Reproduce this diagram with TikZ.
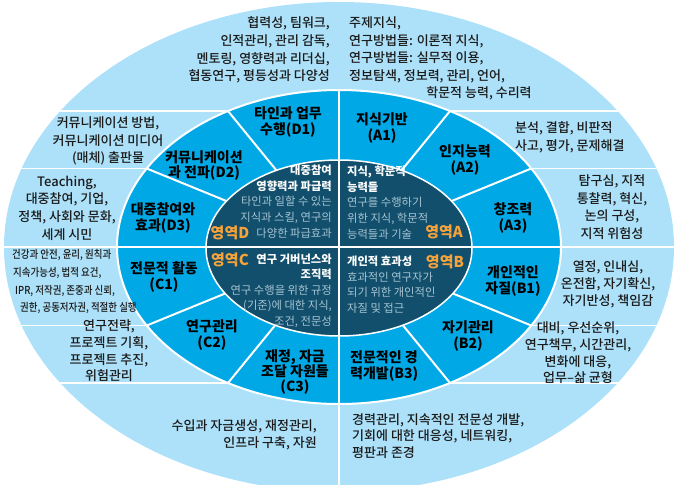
\documentclass[tikz,border=0pt]{standalone}
\usepackage{fontspec}
\setmainfont{Noto Sans CJK KR}
\newfontfamily\medfont{Noto Sans CJK KR Medium}
\newfontfamily\condfont[FakeStretch=0.86]{Noto Sans CJK KR Medium}
\definecolor{lightb}{HTML}{ADE1F9}
\definecolor{midb}{HTML}{00A9E6}
\definecolor{darkb}{HTML}{124F6C}
\definecolor{orangeC}{HTML}{F6A33B}
\definecolor{grayt}{HTML}{A6C4D3}
\definecolor{txt}{HTML}{1A1A1A}
\tikzset{
  outer/.style={font=\medfont\fontsize{13}{17.7}\selectfont, text=txt, align=center, inner sep=0pt},
  smallouter/.style={font=\condfont\fontsize{11}{17.7}\selectfont, text=txt, inner sep=0pt},
  ringlbl/.style={font=\fontsize{14}{16.5}\selectfont\bfseries, text=black, align=center, inner sep=0pt},
  innertxt/.style={font=\fontsize{11.3}{15.6}\selectfont, text=grayt, inner sep=0pt},
  zone/.style={font=\fontsize{15}{15}\selectfont\bfseries, text=orangeC, inner sep=0pt},
  sep/.style={white, line width=1.3pt},
  radial/.style={white, line width=2pt},
}
\newcommand{\hd}[1]{\textcolor{white}{\bfseries #1}}
\begin{document}
\begin{tikzpicture}[x=1pt,y=1pt]
\useasboundingbox (0,0) rectangle (678,-485);
\clip (0,0) rectangle (678,-485);
% outer ellipse
\fill[lightb] (339,-247) ellipse [x radius=335, y radius=245];
\begin{scope}
  \clip (339,-247) ellipse [x radius=335, y radius=245];
  \foreach \yy in {-111,-168.5,-247,-325.5,-383}
    \draw[sep] (0,\yy) -- (678,\yy);
  \draw[sep] (339,-247) -- (339,-500);
\end{scope}
% middle ring
\fill[midb] (339,-247) ellipse [x radius=222, y radius=157];
\draw[white, line width=2pt] (339,-247) ellipse [x radius=222, y radius=157];
\foreach \t in {30,60,120,150,210,240,300,330}
  \draw[radial] (339,-247) -- ({339+222*cos(\t)},{-247+157*sin(\t)});
% inner ellipse
\fill[darkb] (339,-248) ellipse [x radius=133, y radius=88];
\draw[white, line width=1.5pt] (339,-248) ellipse [x radius=133, y radius=88];
% cross lines
\draw[white, line width=2.2pt] (339,-90) -- (339,-404);
\draw[white, line width=2.2pt] (117,-247) -- (561,-247);

% ---- outer texts ----
\node[outer, align=right, anchor=east] (o1) at (330,-50) {협력성, 팀워크,\\인적관리, 관리 감독,\\멘토링, 영향력과 리더십,\\협동연구, 평등성과 다양성};
\node[outer, align=left, anchor=west] (o2) at (349,-50) {주제지식,\\연구방법들: 이론적 지식,\\연구방법들: 실무적 이용,\\정보탐색, 정보력, 관리, 언어,};
\node[outer] (o2b) at (479,-93) {학문적 능력, 수리력};
\node[outer] (o3) at (108,-141) {커뮤니케이션 방법,\\커뮤니케이션 미디어\\(매체) 출판물};
\node[outer] (o4) at (67,-208) {Teaching,\\대중참여, 기업,\\정책, 사회와 문화,\\세계 시민};
\node[smallouter, anchor=west] (o5a) at (12,-255) {건강과 안전, 윤리, 원칙과};
\node[smallouter, anchor=west] (o5b) at (13,-273) {지속가능성, 법적 요건,};
\node[smallouter, anchor=west] (o5c) at (15,-291) {IPR, 저작권, 존중과 신뢰,};
\node[smallouter, anchor=west] (o5d) at (20,-308) {권한, 공동저자권, 적절한 실행};
\node[outer, font=\medfont\fontsize{13}{16.7}\selectfont] (o6) at (109,-351) {연구전략,\\프로젝트 기획,\\프로젝트 추진,\\위험관리};
\node[outer, align=right, anchor=east] (o7) at (317,-435) {수입과 자금생성, 재정관리,\\인프라 구축, 자원};
\node[outer, align=left, anchor=west, font=\medfont\fontsize{13}{16.5}\selectfont] (o8) at (352,-436) {경력관리, 지속적인 전문성 개발,\\기회에 대한 대응성, 네트워킹,\\평판과 존경};
\node[outer, align=left, anchor=west] (o9) at (515,-137) {분석, 결합, 비판적\\사고, 평가, 문제해결};
\node[outer] (o10) at (612,-207) {탐구심, 지적\\통찰력, 혁신,\\논의 구성,\\지적 위험성};
\node[outer, font=\medfont\fontsize{13}{17}\selectfont] (o11) at (608,-284) {열정, 인내심,\\온전함, 자기확신,\\자기반성, 책임감};
\node[outer, font=\medfont\fontsize{13}{16.7}\selectfont] (o12) at (578,-353) {대비, 우선순위,\\연구책무, 시간관리,\\변화에 대응,\\업무–삶 균형};

% ---- ring labels ----
\node[ringlbl] (d1) at (288,-122) {타인과 업무\\수행(D1)};
\node[ringlbl] (a1) at (382,-128) {지식기반\\(A1)};
\node[ringlbl] (a2) at (465,-160) {인지능력\\(A2)};
\node[ringlbl] (a3) at (513,-218) {창조력\\(A3)};
\node[ringlbl] (b1) at (513,-281) {개인적인\\자질(B1)};
\node[ringlbl] (b2) at (468,-336) {자기관리\\(B2)};
\node[ringlbl, align=left, anchor=west] (b3) at (350,-366) {전문적인 경\\력개발(B3)};
\node[ringlbl, font=\fontsize{14}{15.2}\selectfont\bfseries] (c3) at (295,-372) {재정, 자금\\조달 자원들\\(C3)};
\node[ringlbl] (c2) at (212,-335) {연구관리\\(C2)};
\node[ringlbl] (c1) at (164,-277) {전문적 활동\\(C1)};
\node[ringlbl] (d3) at (163,-218) {대중참여와\\효과(D3)};
\node[ringlbl, font=\fontsize{14}{15}\selectfont\bfseries] (d2) at (204,-166) {커뮤니케이션\\과 전파(D2)};

% ---- inner texts ----
\node[innertxt, align=right, anchor=east] (id) at (332,-201.5) {\hd{대중참여}\\\hd{영향력과 파급력}\\타인과 일할 수 있는\\지식과 스킬, 연구의\\다양한 파급효과};
\node[innertxt, align=left, anchor=west] (ia) at (347,-202.5) {\hd{지식, 학문적}\\\hd{능력들}\\연구를 수행하기\\위한 지식, 학문적\\능력들과 기술};
\node[innertxt, align=right, anchor=east] (ic) at (332,-290.5) {\hd{연구 거버넌스와}\\\hd{조직력}\\연구 수행을 위한 규정\\(기준)에 대한 지식,\\조건, 전문성};
\node[innertxt, align=left, anchor=west] (ib) at (347,-284.5) {\hd{개인적 효과성}\\효과적인 연구자가\\되기 위한 개인적인\\자질 및 접근};
\node[zone] (zd) at (230,-233) {영역D};
\node[zone] (za) at (444,-232) {영역A};
\node[zone] (zc) at (230,-260) {영역C};
\node[zone] (zb) at (445,-262) {영역B};
\end{tikzpicture}
\end{document}
